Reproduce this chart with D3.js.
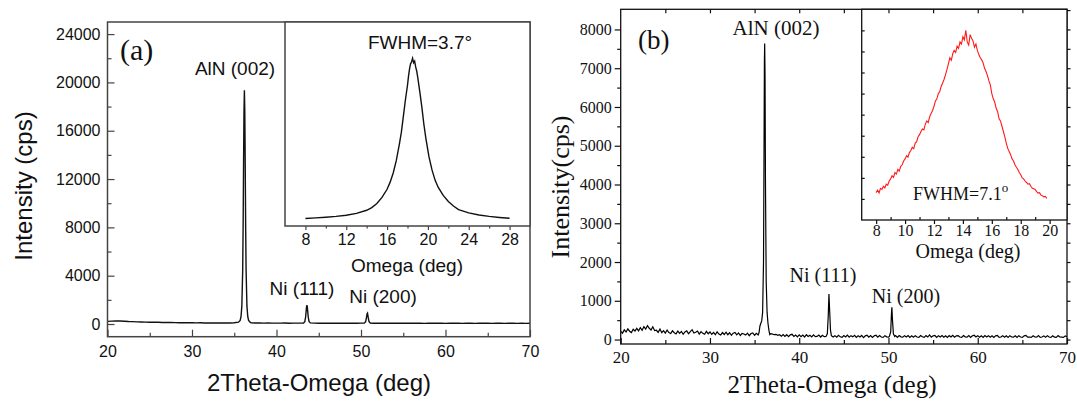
<!DOCTYPE html>
<html lang="en">
<head>
<meta charset="UTF-8">
<title>XRD AlN / Ni</title>
<script src="https://cdn.jsdelivr.net/npm/d3@7"></script>
<style>
  body { margin: 0; background: #fff; }
  svg { display: block; }
</style>
</head>
<body>
<svg width="1077" height="401"></svg>
<script>
// ---------- panel (a) : 2theta-omega scan ----------
var scanStartA = 20, scanStepA = 0.5;
var baseCountsA = [
  220, 240, 260, 250, 230, 210, 200, 180, 170, 160,
  150, 145, 140, 130, 125, 120, 115, 110, 105, 110,
  100, 95, 100, 90, 95, 85, 90, 80, 85, 90,
  100, 120, 110, 100, 90, 80, 85, 75, 80, 70,
  75, 70, 80, 65, 70, 75, 70, 65, 75, 70,
  65, 70, 60, 70, 65, 60, 70, 65, 60, 65,
  70, 60, 65, 60, 70, 65, 60, 65, 70, 60,
  60, 65, 70, 60, 65, 55, 60, 70, 65, 60,
  55, 60, 65, 60, 55, 65, 60, 55, 60, 65,
  60, 55, 65, 60, 55, 60, 65, 55, 60, 55,
  60
];
var alnPeakA = {
  x: [35.5, 35.7, 35.8, 35.9, 36.0, 36.05, 36.1, 36.15, 36.2, 36.25, 36.3, 36.35, 36.4, 36.5, 36.6, 36.7, 36.9],
  y: [150, 300, 600, 1500, 4500, 8000, 13000, 17500, 19340, 17500, 13000, 8000, 4500, 1500, 600, 300, 130]
};
var ni111PeakA = {
  x: [43.2, 43.35, 43.45, 43.55, 43.6, 43.65, 43.75, 43.85, 44.0],
  y: [80, 200, 600, 1400, 1570, 1400, 600, 220, 90]
};
var ni200PeakA = {
  x: [50.4, 50.55, 50.65, 50.72, 50.77, 50.85, 50.95, 51.1],
  y: [70, 200, 550, 850, 900, 550, 200, 80]
};
var xTicksA = [20, 30, 40, 50, 60, 70];
var yTicksA = [0, 4000, 8000, 12000, 16000, 20000, 24000];

// inset (a) : omega rocking curve
var omegaA = [8, 9, 10, 11, 12, 13, 14, 14.5, 15, 15.5, 16, 16.3, 16.6, 16.9, 17.2, 17.4, 17.6, 17.8,
  18.0, 18.1, 18.2, 18.3, 18.4, 18.5, 18.6, 18.7, 18.8, 18.9, 19.0, 19.2, 19.4, 19.6, 19.8,
  20.1, 20.4, 20.7, 21.0, 21.5, 22, 22.5, 23, 24, 25, 26, 27, 28];
var rockA = [47, 50, 53, 57, 63, 72, 87, 100, 120, 150, 190, 225, 270, 330, 410, 470, 550, 630,
  700, 745, 780, 805, 815, 832, 810, 818, 790, 770, 740, 670, 595, 510, 440,
  350, 285, 235, 200, 160, 130, 108, 90, 74, 64, 57, 52, 48];
var insetTicksA = [8, 12, 16, 20, 24, 28];

// ---------- panel (b) : 2theta-omega scan ----------
var scanStartB = 20, scanStepB = 0.2;
var baseCountsB = [
  210, 165, 250, 195, 275, 215, 180, 265, 220, 290,
  225, 305, 240, 335, 270, 360, 290, 245, 330, 230,
  240, 185, 270, 175, 230, 165, 245, 180, 155, 225,
  175, 145, 220, 160, 210, 135, 195, 225, 150, 205,
  255, 170, 190, 220, 140, 205, 160, 135, 210, 150,
  195, 135, 185, 125, 200, 140, 115, 180, 130, 190,
  125, 175, 110, 165, 185, 120, 170, 105, 160, 145,
  115, 165, 100, 155, 170, 110, 160, 120, 175, 155,
  180, 175, 170, 160, 150, 140, 125, 135, 110, 125,
  85, 130, 80, 125, 75, 120, 135, 80, 115, 70,
  120, 75, 115, 65, 125, 80, 110, 70, 120, 75,
  80, 115, 65, 110, 75, 120, 70, 105, 110, 65,
  100, 60, 110, 70, 55, 105, 65, 115, 60, 100,
  70, 110, 55, 100, 65, 105, 50, 95, 110, 60,
  100, 55, 95, 110, 60, 105, 65, 55, 100, 70,
  60, 105, 65, 95, 100, 55, 105, 70, 60, 100,
  65, 105, 55, 95, 60, 100, 65, 55, 105, 70,
  55, 100, 65, 120, 60, 95, 105, 55, 100, 65,
  105, 60, 95, 55, 100, 65, 110, 60, 95, 100,
  65, 55, 105, 70, 60, 100, 55, 95, 110, 65,
  100, 60, 95, 55, 105, 65, 100, 60, 95, 55,
  95, 105, 55, 65, 100, 60, 95, 55, 100, 65,
  60, 95, 55, 100, 65, 55, 95, 105, 60, 65,
  55, 95, 65, 60, 100, 55, 65, 95, 60, 100,
  65, 55, 95, 60, 55, 100, 65, 60, 55, 95,
  72
];
var alnPeakB = {
  x: [35.5, 35.6, 35.7, 35.8, 35.9, 36.0, 36.05, 36.1, 36.13, 36.17, 36.22, 36.3, 36.4, 36.5, 36.6, 36.7],
  y: [180, 350, 420, 480, 700, 2000, 4500, 7200, 7640, 6800, 4000, 1500, 700, 420, 250, 130]
};
var ni111PeakB = {
  x: [43.0, 43.15, 43.25, 43.33, 43.4, 43.5, 43.6],
  y: [80, 150, 600, 1175, 800, 250, 100]
};
var ni200PeakB = {
  x: [50.1, 50.25, 50.33, 50.38, 50.45, 50.55, 50.7],
  y: [80, 200, 650, 830, 500, 150, 80]
};
var xTicksB = [20, 30, 40, 50, 60, 70];
var yTicksB = [0, 1000, 2000, 3000, 4000, 5000, 6000, 7000, 8000];

// inset (b) : omega rocking curve, 0.1 deg steps from 8.0
var omegaStartB = 8, omegaStepB = 0.1;
var rockB = [
  130, 142, 128, 150, 145, 160, 152, 170, 165, 185,
  195, 210, 202, 225, 218, 240, 232, 255, 262, 280,
  290, 305, 298, 320, 330, 345, 338, 365, 372, 395,
  405, 420, 432, 428, 455, 470, 462, 490, 505, 520,
  540, 565, 575, 600, 610, 635, 650, 668, 690, 715,
  742, 770, 758, 790, 805, 795, 825, 815, 845, 835,
  870, 855, 900, 845, 830, 880, 862, 850, 820, 835,
  805, 785, 770, 760, 745, 720, 705, 685, 660, 640,
  600, 575, 560, 530, 515, 480, 470, 445, 420, 395,
  365, 340, 325, 310, 290, 280, 262, 250, 240, 225,
  215, 200, 195, 185, 178, 170, 172, 160, 150, 148,
  145, 135, 128, 130, 118, 115, 110, 112, 103
];
var insetTicksB = [8, 10, 12, 14, 16, 18, 20];

// ---------- helpers ----------
var sans = "'Liberation Sans', Arial, sans-serif";
var serif = "'Liberation Serif', 'Times New Roman', serif";
var svg = d3.select("svg");

function scanPoints(start, step, counts, peaks) {
  var pts = counts.map(function (c, i) { return [start + i * step, c]; });
  peaks.forEach(function (p) {
    var lo = d3.min(p.x), hi = d3.max(p.x);
    pts = pts.filter(function (d) { return d[0] < lo || d[0] > hi; });
    p.x.forEach(function (x, i) { pts.push([x, p.y[i]]); });
  });
  return pts.sort(function (a, b) { return a[0] - b[0]; });
}

function drawAxis(axis, tx, ty, font, size, col) {
  var g = svg.append("g").attr("transform", "translate(" + tx + "," + ty + ")").call(axis);
  g.select(".domain").remove();
  g.selectAll("line").attr("stroke", col).attr("stroke-width", 1.2);
  g.selectAll("text").attr("font-family", font).attr("font-size", size).attr("fill", "#111");
  return g;
}

function addText(x, y, str, font, size, anchor) {
  return svg.append("text").attr("x", x).attr("y", y)
    .attr("font-family", font).attr("font-size", size)
    .attr("text-anchor", anchor || "start").attr("fill", "#111").text(str);
}

// ================= panel (a) =================
var xA = d3.scaleLinear().domain([20, 70]).range([107.5, 530]);
var yA = d3.scaleLinear().domain([-1050, 25000]).range([336.7, 22]);
var colA = "#444";

drawAxis(d3.axisBottom(xA).tickValues(xTicksA).tickSize(-7).tickPadding(9).tickFormat(d3.format("d")),
  0, yA.range()[0], sans, 16, colA);
drawAxis(d3.axisBottom(xA).tickValues([25, 35, 45, 55, 65]).tickSize(-4).tickFormat(""),
  0, yA.range()[0], sans, 16, colA);
drawAxis(d3.axisLeft(yA).tickValues(yTicksA).tickSize(-7).tickPadding(7).tickFormat(d3.format("d")),
  xA.range()[0], 0, sans, 16, colA);
drawAxis(d3.axisLeft(yA).tickValues([2000, 6000, 10000, 14000, 18000, 22000]).tickSize(-4).tickFormat(""),
  xA.range()[0], 0, sans, 16, colA);

var ptsA = scanPoints(scanStartA, scanStepA, baseCountsA, [alnPeakA, ni111PeakA, ni200PeakA]);
svg.append("path").datum(ptsA)
  .attr("fill", "none").attr("stroke", "#111").attr("stroke-width", 1.4)
  .attr("d", d3.line().x(function (d) { return xA(d[0]); }).y(function (d) { return yA(d[1]); }));

svg.append("rect")
  .attr("x", xA.range()[0]).attr("y", yA.range()[1])
  .attr("width", xA.range()[1] - xA.range()[0]).attr("height", yA.range()[0] - yA.range()[1])
  .attr("fill", "none").attr("stroke", colA).attr("stroke-width", 1.5);

// inset (a)
var ixA = d3.scaleLinear().domain([6, 30]).range([285, 530]);
var iyA = d3.scaleLinear().domain([10, 1010]).range([226, 22]);
svg.append("rect")
  .attr("x", ixA.range()[0]).attr("y", iyA.range()[1])
  .attr("width", ixA.range()[1] - ixA.range()[0]).attr("height", iyA.range()[0] - iyA.range()[1])
  .attr("fill", "#fff").attr("stroke", colA).attr("stroke-width", 1.5);
drawAxis(d3.axisBottom(ixA).tickValues(insetTicksA).tickSize(4).tickPadding(4).tickFormat(d3.format("d")),
  0, iyA.range()[0], sans, 16, colA);
drawAxis(d3.axisBottom(ixA).tickValues([10, 14, 18, 22, 26]).tickSize(2.5).tickFormat(""),
  0, iyA.range()[0], sans, 16, colA);
svg.append("path").datum(d3.zip(omegaA, rockA))
  .attr("fill", "none").attr("stroke", "#111").attr("stroke-width", 1.4)
  .attr("d", d3.line().x(function (d) { return ixA(d[0]); }).y(function (d) { return iyA(d[1]); }));

addText(420, 49, "FWHM=3.7\u00b0", sans, 19, "middle");
addText(407, 272, "Omega (deg)", sans, 19, "middle");

addText(120, 60, "(a)", serif, 30);
addText(235, 75, "AlN (002)", sans, 19, "middle");
addText(302, 295, "Ni (111)", sans, 19, "middle");
addText(383, 303, "Ni (200)", sans, 19, "middle");
addText(319, 391, "2Theta-Omega (deg)", sans, 24, "middle");
addText(0, 0, "Intensity (cps)", sans, 24, "middle")
  .attr("transform", "translate(32,186) rotate(-90)");

// ================= panel (b) =================
var xB = d3.scaleLinear().domain([20, 70]).range([620.7, 1067]);
var yB = d3.scaleLinear().domain([-115, 8520]).range([344, 9.3]);
var colB = "#111";

drawAxis(d3.axisBottom(xB).tickValues(xTicksB).tickSize(-6).tickPadding(7).tickFormat(d3.format("d")),
  0, yB.range()[0], serif, 17, colB);
drawAxis(d3.axisBottom(xB).tickValues([25, 35, 45, 55, 65]).tickSize(-4).tickFormat(""),
  0, yB.range()[0], serif, 17, colB);
drawAxis(d3.axisTop(xB).tickValues(d3.range(25, 70, 5)).tickSize(-4).tickFormat(""),
  0, yB.range()[1], serif, 17, colB);
drawAxis(d3.axisLeft(yB).tickValues(yTicksB).tickSize(6).tickPadding(3).tickFormat(d3.format("d")),
  xB.range()[0], 0, serif, 16, colB);
drawAxis(d3.axisLeft(yB).tickValues(d3.range(500, 8500, 1000)).tickSize(3.5).tickFormat(""),
  xB.range()[0], 0, serif, 16, colB);
drawAxis(d3.axisRight(yB).tickValues(d3.range(0, 8501, 500)).tickSize(3.5).tickFormat(""),
  xB.range()[1], 0, serif, 16, colB);

var ptsB = scanPoints(scanStartB, scanStepB, baseCountsB, [alnPeakB, ni111PeakB, ni200PeakB]);
svg.append("path").datum(ptsB)
  .attr("fill", "none").attr("stroke", "#000").attr("stroke-width", 1.2)
  .attr("d", d3.line().x(function (d) { return xB(d[0]); }).y(function (d) { return yB(d[1]); }));

svg.append("rect")
  .attr("x", xB.range()[0]).attr("y", yB.range()[1])
  .attr("width", xB.range()[1] - xB.range()[0]).attr("height", yB.range()[0] - yB.range()[1])
  .attr("fill", "none").attr("stroke", colB).attr("stroke-width", 1.3);

// inset (b)
var ixB = d3.scaleLinear().domain([7, 21.2]).range([861.7, 1067]);
var iyB = d3.scaleLinear().domain([0, 1000]).range([220, 9.3]);
svg.append("rect")
  .attr("x", ixB.range()[0]).attr("y", iyB.range()[1])
  .attr("width", ixB.range()[1] - ixB.range()[0]).attr("height", iyB.range()[0] - iyB.range()[1])
  .attr("fill", "#fff").attr("stroke", colB).attr("stroke-width", 1.3);
drawAxis(d3.axisTop(xB).tickValues(d3.range(50, 70, 5)).tickSize(-4).tickFormat(""),
  0, yB.range()[1], serif, 17, colB);
drawAxis(d3.axisBottom(ixB).tickValues(insetTicksB).tickSize(4).tickPadding(1).tickFormat(d3.format("d")),
  0, iyB.range()[0], serif, 16, colB);
drawAxis(d3.axisBottom(ixB).tickValues([9, 11, 13, 15, 17, 19]).tickSize(-3).tickFormat(""),
  0, iyB.range()[0], serif, 16, colB);
drawAxis(d3.axisLeft(iyB).tickValues(d3.range(100, 1000, 100)).tickSize(-3).tickFormat(""),
  ixB.range()[0], 0, serif, 16, colB);

var omegaB = rockB.map(function (v, i) { return omegaStartB + i * omegaStepB; });
svg.append("path").datum(d3.zip(omegaB, rockB))
  .attr("fill", "none").attr("stroke", "#ff1a1a").attr("stroke-width", 1.1)
  .attr("d", d3.line().x(function (d) { return ixB(d[0]); }).y(function (d) { return iyB(d[1]); }));

var fw = addText(913, 200, "FWHM=7.1", serif, 18);
fw.append("tspan").attr("dy", -8).attr("font-size", 13).text("o");
addText(968, 258, "Omega (deg)", serif, 20, "middle");

addText(638, 49, "(b)", serif, 27);
addText(776, 35, "AlN (002)", serif, 21, "middle");
addText(823, 282, "Ni (111)", serif, 20, "middle");
addText(906, 303, "Ni (200)", serif, 20, "middle");
addText(832, 393, "2Theta-Omega (deg)", serif, 25, "middle");
addText(0, 0, "Intensity(cps)", serif, 26, "middle")
  .attr("transform", "translate(569,187) rotate(-90)");
</script>
</body>
</html>
